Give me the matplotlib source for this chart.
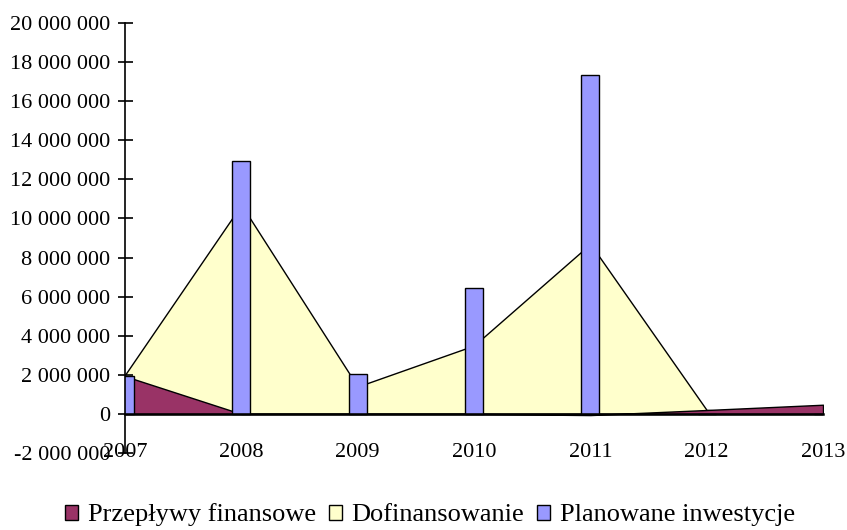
"""Przeplywy finansowe / dofinansowanie / planowane inwestycje 2007-2013"""
import matplotlib.pyplot as plt
import numpy as np
from matplotlib.patches import Patch
from matplotlib.ticker import FuncFormatter

plt.rcParams["font.family"] = ["Liberation Serif", "DejaVu Serif"]

# data
years = ["2007", "2008", "2009", "2010", "2011", "2012", "2013"]
przeplywy = [1930000, 0, 0, 0, -60000, 200000, 470000]
dofinansowanie = [2000000, 10700000, 1400000, 3500000, 8700000, 200000, 0]
inwestycje = [1950000, 12920000, 2020000, 6430000, 17330000, 0, 0]

MAROON = "#993366"
YELLOW = "#FFFFCC"
BLUE = "#9999FF"

x = np.arange(len(years))

fig = plt.figure(figsize=(8.47, 5.30), dpi=100)
ax = fig.add_axes([125 / 847, 1 - 453 / 530, (823 - 125) / 847, (453 - 23) / 530])

# areas (yellow behind, maroon in front), bars on top
ax.fill_between(x, dofinansowanie, 0, facecolor=YELLOW, edgecolor="black", linewidth=1.0, zorder=1)
ax.fill_between(x, przeplywy, 0, facecolor=MAROON, edgecolor="black", linewidth=1.0, zorder=2)
ax.bar(x, inwestycje, width=0.157, color=BLUE, edgecolor="black", linewidth=1.0, zorder=3)

ax.set_xlim(0, len(years) - 1)
ax.set_ylim(-2000000, 20000000)
ax.set_yticks(np.arange(-2000000, 20000001, 2000000))
ax.yaxis.set_major_formatter(FuncFormatter(lambda v, p: f"{int(v):,}".replace(",", " ")))
ax.set_xticks(x)
ax.set_xticklabels(years)

for s in ("top", "right"):
    ax.spines[s].set_visible(False)
ax.spines["bottom"].set_position(("data", 0))
ax.spines["bottom"].set_linewidth(1.8)
ax.spines["bottom"].set_zorder(5)
ax.spines["left"].set_linewidth(1.2)
ax.spines["left"].set_zorder(5)

ax.tick_params(axis="y", direction="inout", length=10.8, width=1.2, labelsize=16, pad=5)
ax.tick_params(axis="x", length=0, labelsize=16, pad=21)

handles = [
    Patch(facecolor=MAROON, edgecolor="black", label="Przepływy finansowe"),
    Patch(facecolor=YELLOW, edgecolor="black", label="Dofinansowanie"),
    Patch(facecolor=BLUE, edgecolor="black", label="Planowane inwestycje"),
]
fig.legend(handles=handles, loc="center", bbox_to_anchor=(430 / 847, 1 - 515 / 530), ncol=3,
           frameon=False, fontsize=19, handlelength=0.5, handleheight=0.5,
           handletextpad=0.35, columnspacing=0.5, borderpad=0)

plt.savefig("out.png", dpi=100)
